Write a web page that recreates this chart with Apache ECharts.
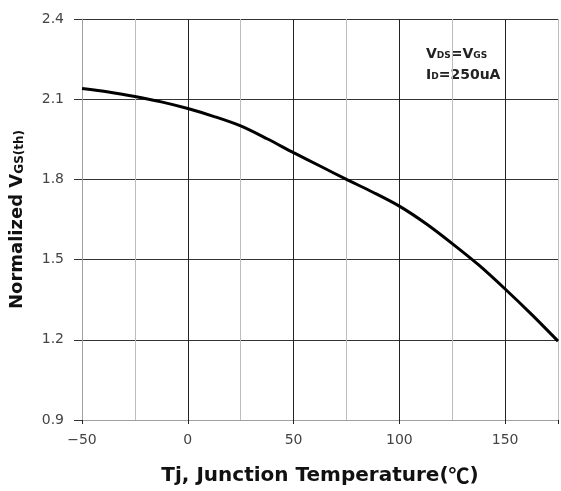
<!DOCTYPE html>
<html>
<head>
<meta charset="utf-8">
<script src="https://cdn.jsdelivr.net/npm/echarts@6/dist/echarts.min.js"></script>
<style>html,body{margin:0;padding:0;background:#fff}#c{width:561px;height:491px}</style>
</head>
<body>
<div id="c"></div>
<script>
var temps = [-50, -37.5, -25, -12.5, 0, 12.5, 25, 37.5, 50, 62.5, 75, 87.5, 100, 112.5, 125, 137.5, 150, 162.5, 175];
var vgsNorm = [2.14, 2.127, 2.11, 2.09, 2.065, 2.035, 2.0, 1.952, 1.90, 1.85, 1.80, 1.752, 1.70, 1.635, 1.56, 1.48, 1.39, 1.295, 1.195];
var xTicks = {min: -50, max: 175, step: 25, majorStep: 50};
var yTicks = {min: 0.9, max: 2.4, step: 0.3};
var xTitleA = 'Tj, Junction Temperature(';
var xTitleUnit = '℃';
var xTitleB = ')';
var yTitleMain = 'Normalized V';
var yTitleSub = 'GS(th)';

var chart = echarts.init(document.getElementById('c'), null, {renderer: 'canvas'});
var pts = temps.map(function (t, i) { return [t, vgsNorm[i]]; });
var tickFont = 'DejaVu Sans';
var boldFont = 'DejaVu Sans';

chart.setOption({
  animation: false,
  backgroundColor: '#fff',
  grid: {left: 81, width: 481, top: 19, height: 404, containLabel: false},
  xAxis: [{
    type: 'value', min: xTicks.min, max: xTicks.max, interval: xTicks.step,
    axisLine: {show: true, onZero: false, lineStyle: {color: '#a0a0a0', width: 1}},
    axisTick: {show: false},
    axisLabel: {
      color: '#444', fontFamily: tickFont, fontSize: 14, margin: 13,
      formatter: function (v) { return (v === 175 || v % 50 !== 0) ? '' : String(v).replace('-', '\u2212'); }
    },
    splitLine: {show: true, lineStyle: {color: ['#222', '#bdbdbd'], width: 1}},
    name: '{a|' + xTitleA + '}{c|' + xTitleUnit + '}{a|' + xTitleB + '}',
    nameLocation: 'middle', nameGap: 45,
    nameTextStyle: {
      verticalAlign: 'top',
      rich: {
        a: {color: '#111', fontFamily: boldFont, fontWeight: 'bold', fontSize: 20},
        c: {color: '#111', fontFamily: 'Noto Sans CJK SC', fontWeight: 'bold', fontSize: 21}
      }
    }
  }, {
    type: 'value', position: 'bottom', min: xTicks.min, max: xTicks.max, interval: xTicks.majorStep,
    axisLine: {show: false, onZero: false},
    axisTick: {show: true, length: 4, lineStyle: {color: '#222'}},
    axisLabel: {show: false},
    splitLine: {show: false}
  }],
  yAxis: {
    type: 'value', min: yTicks.min, max: yTicks.max, interval: yTicks.step,
    axisLine: {show: true, onZero: false, lineStyle: {color: '#a0a0a0', width: 1}},
    axisTick: {show: true, length: 8, lineStyle: {color: '#333'}},
    axisLabel: {
      color: '#444', fontFamily: tickFont, fontSize: 14, margin: 18,
      formatter: function (v) { return v.toFixed(1); }
    },
    splitLine: {show: true, lineStyle: {color: '#333', width: 1}},
    name: '{a|' + yTitleMain + '}{b|' + yTitleSub + '}',
    nameLocation: 'middle', nameGap: 56, nameRotate: 90,
    nameTextStyle: {
      rich: {
        a: {color: '#111', fontFamily: boldFont, fontWeight: 'bold', fontSize: 18},
        b: {color: '#111', fontFamily: boldFont, fontWeight: 'bold', fontSize: 12, padding: [6, 0, 0, 0]}
      }
    }
  },
  series: [{
    type: 'line', xAxisIndex: 0, data: pts, smooth: 0.3, symbol: 'none', clip: true,
    lineStyle: {color: '#000', width: 3}
  }],
  graphic: [{
    type: 'group', left: 410, top: 33,
    children: [
      {type: 'rect', shape: {x: 0, y: 0, width: 105, height: 56}, style: {fill: '#fff'}},
      {type: 'text', x: 16, y: 14, style: {
        text: '{a|V}{b|DS}{a|=V}{b|GS}',
        rich: {
          a: {fill: '#222', fontFamily: boldFont, fontWeight: 'bold', fontSize: 14},
          b: {fill: '#222', fontFamily: boldFont, fontWeight: 'bold', fontSize: 9, padding: [4, 0, 0, 0]}
        }
      }},
      {type: 'text', x: 16, y: 35, style: {
        text: '{a|I}{b|D}{a|=250uA}',
        rich: {
          a: {fill: '#222', fontFamily: boldFont, fontWeight: 'bold', fontSize: 14},
          b: {fill: '#222', fontFamily: boldFont, fontWeight: 'bold', fontSize: 9, padding: [4, 0, 0, 0]}
        }
      }}
    ]
  }]
});
</script>
</body>
</html>
